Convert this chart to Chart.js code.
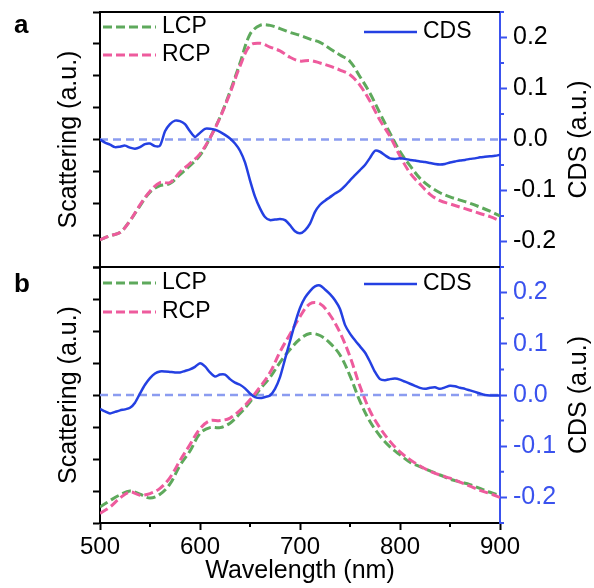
<!DOCTYPE html>
<html>
<head>
<meta charset="utf-8">
<script src="https://cdn.jsdelivr.net/npm/chart.js@4.4.1/dist/chart.umd.min.js"></script>
<style>
  html, body { margin: 0; padding: 0; background: #fff; }
  #wrap { position: relative; width: 594px; height: 588px; }
  #wrap canvas { position: absolute; left: 0; top: 0; }
</style>
</head>
<body>
<div id="wrap">
  <canvas id="chartA" width="594" height="588"></canvas>
  <canvas id="chartB" width="594" height="588"></canvas>
</div>
<script>
// wavelength grids (nm)
var wavelength = [500,510,520,530,540,550,560,570,580,590,600,610,620,630,640,650,660,670,680,690,
  700,710,720,730,740,750,760,770,780,790,800,810,820,830,840,850,860,870,880,890,900];
var cdsWavelength = [500,505,510,515,520,525,530,535,540,545,550,555,560,565,570,575,580,585,590,595,
  600,605,610,615,620,625,630,635,640,645,650,655,660,665,670,675,680,685,690,695,
  700,705,710,715,720,725,730,735,740,745,750,755,760,765,770,775,780,785,790,795,
  800,805,810,815,820,825,830,835,840,845,850,855,860,865,870,875,880,885,890,895,900];

// panel a - scattering (a.u., arbitrary 0..8 scale)
var lcpA = [0.85,0.98,1.08,1.45,1.92,2.35,2.55,2.62,2.9,3.18,3.5,4.05,4.7,5.5,6.4,7.3,7.58,7.58,7.48,7.36,
  7.27,7.15,7.05,6.85,6.65,6.45,5.97,5.45,4.82,4.2,3.62,3.18,2.78,2.52,2.33,2.2,2.1,2.0,1.88,1.75,1.6];
var rcpA = [0.85,0.98,1.08,1.45,1.95,2.38,2.65,2.65,2.98,3.25,3.55,4.05,4.68,5.45,6.3,6.95,7.02,6.9,6.78,6.58,
  6.46,6.48,6.4,6.3,6.18,6.03,5.7,5.2,4.6,4.1,3.48,2.95,2.6,2.28,2.08,1.98,1.88,1.78,1.68,1.58,1.45];
// panel a - CDS
var cdsA = [0.0,-0.006,-0.01,-0.015,-0.014,-0.012,-0.016,-0.018,-0.015,-0.009,-0.008,-0.013,-0.012,0.016,0.03,0.037,0.036,0.03,0.016,0.005,
  0.013,0.021,0.021,0.019,0.015,0.009,0.002,-0.008,-0.022,-0.045,-0.08,-0.112,-0.135,-0.152,-0.158,-0.157,-0.156,-0.158,-0.168,-0.18,
  -0.184,-0.178,-0.165,-0.142,-0.128,-0.12,-0.113,-0.106,-0.1,-0.091,-0.08,-0.07,-0.06,-0.05,-0.036,-0.022,-0.024,-0.031,-0.037,-0.038,
  -0.037,-0.038,-0.04,-0.041,-0.043,-0.044,-0.046,-0.048,-0.049,-0.048,-0.045,-0.043,-0.041,-0.04,-0.038,-0.037,-0.035,-0.034,-0.033,-0.032,-0.03];

// panel b - scattering
var lcpB = [0.5,0.7,0.88,1.0,0.9,0.78,0.9,1.22,1.8,2.25,2.8,2.98,2.98,3.12,3.42,3.78,4.18,4.55,5.02,5.42,
  5.75,5.92,5.86,5.62,5.25,4.6,3.8,3.17,2.72,2.38,2.13,1.9,1.76,1.63,1.5,1.37,1.28,1.2,1.08,0.96,0.86];
var rcpB = [0.3,0.5,0.78,0.97,0.87,0.92,1.08,1.42,1.95,2.45,2.95,3.2,3.2,3.28,3.52,3.85,4.25,4.7,5.35,5.9,
  6.45,6.85,6.85,6.5,5.95,5.2,4.27,3.5,2.97,2.55,2.22,1.98,1.78,1.62,1.5,1.4,1.28,1.15,1.02,0.92,0.8];
// panel b - CDS
var cdsB = [-0.027,-0.032,-0.036,-0.033,-0.03,-0.028,-0.025,-0.015,0.003,0.02,0.033,0.042,0.046,0.046,0.045,0.044,0.044,0.047,0.05,0.055,
  0.062,0.056,0.044,0.036,0.04,0.04,0.031,0.024,0.02,0.013,0.003,-0.004,-0.006,-0.004,-0.001,0.012,0.035,0.07,0.105,0.14,
  0.17,0.19,0.203,0.212,0.214,0.206,0.197,0.185,0.168,0.137,0.12,0.107,0.095,0.083,0.065,0.045,0.031,0.029,0.031,0.032,
  0.03,0.026,0.022,0.018,0.014,0.012,0.014,0.015,0.012,0.015,0.018,0.017,0.014,0.012,0.009,0.006,0.003,0.0,-0.001,-0.001,-0.001];

// zero reference line for CDS
var zeroLineX = [500, 900];
var zeroLineY = [0, 0];

// ticks
var wavelengthTicks = [500, 600, 700, 800, 900];
var minorWavelengthTicks = [550, 650, 750, 850];
var cdsTicks = [-0.2, -0.1, 0, 0.1, 0.2];
var minorCdsTicks = [-0.25, -0.15, -0.05, 0.05, 0.15, 0.25];
var scatterTicks = [0, 1, 2, 3, 4, 5, 6, 7, 8];

var lcpGreen = '#5ea95c';
var rcpPink = '#ee5b9d';
var cdsBlue = '#2440e2';
var axisBlue = '#3a52ee';
var zeroBlue = '#8b9cf0';

Chart.defaults.font.family = '"Liberation Sans", Arial, sans-serif';
Chart.defaults.color = '#000';

function toXY(xs, ys) {
  return ys.map(function (y, i) { return { x: xs[i], y: y }; });
}

// frame, minor ticks, legend, right title, panel letter
var panelDecor = {
  id: 'panelDecor',
  afterDraw: function (chart, args, o) {
    var ctx = chart.ctx, a = chart.chartArea;
    var rS = chart.scales.cds, xS = chart.scales.x;
    ctx.save();
    ctx.lineWidth = 2;
    ctx.strokeStyle = '#000';
    ctx.beginPath();
    ctx.moveTo(a.left - 1, a.top); ctx.lineTo(a.right, a.top);
    if (o.bottomLine) { ctx.moveTo(a.left - 1, a.bottom); ctx.lineTo(a.right, a.bottom); }
    ctx.stroke();

    ctx.strokeStyle = axisBlue;
    ctx.beginPath();
    minorCdsTicks.forEach(function (v) {
      var y = rS.getPixelForValue(v);
      ctx.moveTo(a.right, y); ctx.lineTo(a.right + 4, y);
    });
    ctx.stroke();

    if (o.minorX) {
      ctx.strokeStyle = '#000';
      ctx.beginPath();
      minorWavelengthTicks.forEach(function (v) {
        var x = xS.getPixelForValue(v);
        ctx.moveTo(x, a.bottom); ctx.lineTo(x, a.bottom + 4);
      });
      ctx.stroke();
    }

    // legend
    ctx.font = '23px "Liberation Sans", Arial, sans-serif';
    ctx.textBaseline = 'middle';
    ctx.textAlign = 'left';
    ctx.fillStyle = '#000';
    var items = [
      { c: lcpGreen, dash: [9, 4], x0: a.left + 3, x1: a.left + 56, y: a.top + o.legY[0], t: 'LCP' },
      { c: rcpPink, dash: [9, 4], x0: a.left + 3, x1: a.left + 56, y: a.top + o.legY[1], t: 'RCP' },
      { c: cdsBlue, dash: [], x0: a.right - 136, x1: a.right - 83, y: a.top + o.legY[2], t: 'CDS' }
    ];
    items.forEach(function (it) {
      ctx.setLineDash(it.dash);
      ctx.strokeStyle = it.c;
      ctx.lineWidth = it.dash.length ? 3 : 2.5;
      ctx.beginPath(); ctx.moveTo(it.x0, it.y); ctx.lineTo(it.x1, it.y); ctx.stroke();
      ctx.fillText(it.t, it.x1 + 6, it.y);
    });
    ctx.setLineDash([]);

    // right axis title
    ctx.save();
    ctx.font = '25px "Liberation Sans", Arial, sans-serif';
    ctx.textAlign = 'center';
    ctx.translate(579, (a.top + a.bottom) / 2);
    ctx.rotate(-Math.PI / 2);
    ctx.fillText('CDS (a.u.)', 0, 0);
    ctx.restore();

    // panel letter
    ctx.font = 'bold 26px "Liberation Sans", Arial, sans-serif';
    ctx.textBaseline = 'alphabetic';
    ctx.fillText(o.letter, 14, o.letterY);
    ctx.restore();
  }
};

function makePanel(id, lcp, rcp, cds, p) {
  var datasets = [
    { label: 'CDS', data: toXY(cdsWavelength, cds), yAxisID: 'cds', borderColor: cdsBlue, borderWidth: 2.5, tension: 0.25, order: 0 },
    { label: 'RCP', data: toXY(wavelength, rcp), yAxisID: 'scat', borderColor: rcpPink, borderDash: [9, 4], borderWidth: 3, tension: 0.35, order: 1 },
    { label: 'LCP', data: toXY(wavelength, lcp), yAxisID: 'scat', borderColor: lcpGreen, borderDash: [9, 4], borderWidth: 3, tension: 0.35, order: 2 },
    { label: 'zero', data: toXY(zeroLineX, zeroLineY), yAxisID: 'cds', borderColor: zeroBlue, borderDash: [8, 5], borderWidth: 2.5, order: 3 }
  ];
  return new Chart(document.getElementById(id), {
    type: 'line',
    data: { datasets: datasets },
    options: {
      responsive: false,
      animation: false,
      devicePixelRatio: 1,
      layout: { padding: { top: p.padTop, bottom: p.padBottom, left: 0, right: 0 } },
      elements: { point: { radius: 0 } },
      plugins: { legend: { display: false }, tooltip: { enabled: false }, panelDecor: p.decor },
      scales: {
        x: {
          type: 'linear', min: 500, max: 900,
          display: p.showX,
          afterBuildTicks: function (s) { s.ticks = wavelengthTicks.map(function (v) { return { value: v }; }); },
          afterFit: function (s) { s.height = p.showX ? 65 : 0; s.paddingLeft = 0; s.paddingRight = 0; },
          grid: { drawOnChartArea: false, tickLength: 7, tickWidth: 2, tickColor: '#000' },
          border: { color: '#000', width: 2 },
          ticks: { font: { size: 24 }, padding: 3, maxRotation: 0, color: '#000' },
          title: { display: true, text: 'Wavelength (nm)', font: { size: 25 }, padding: { top: 0, bottom: 2 }, color: '#000' }
        },
        scat: {
          position: 'left', min: 0, max: 8,
          afterBuildTicks: function (s) { s.ticks = scatterTicks.map(function (v) { return { value: v }; }); },
          afterFit: function (s) { s.width = 100; s.paddingTop = 0; s.paddingBottom = 0; },
          grid: { drawOnChartArea: false, tickLength: 7, tickWidth: 2, tickColor: '#000' },
          border: { color: '#000', width: 2 },
          ticks: { display: false },
          title: { display: true, text: 'Scattering (a.u.)', font: { size: 25 }, padding: { top: 54, bottom: 0 }, color: '#000' }
        },
        cds: {
          position: 'right', min: -0.25, max: 0.25,
          afterBuildTicks: function (s) { s.ticks = cdsTicks.map(function (v) { return { value: v }; }); },
          afterFit: function (s) { s.width = 94; s.paddingTop = 0; s.paddingBottom = 0; },
          grid: { drawOnChartArea: false, tickLength: 7, tickWidth: 2, tickColor: axisBlue },
          border: { color: axisBlue, width: 2 },
          ticks: { font: { size: 25 }, padding: 6, color: p.tickColor,
            callback: function (v) { return Number(v).toFixed(1); } }
        }
      }
    },
    plugins: [panelDecor]
  });
}

makePanel('chartA', lcpA, rcpA, cdsA, {
  padTop: 12, padBottom: 321, showX: false, tickColor: '#000',
  decor: { bottomLine: true, minorX: false, legY: [15, 43, 20], letter: 'a', letterY: 33 }
});
makePanel('chartB', lcpB, rcpB, cdsB, {
  padTop: 267, padBottom: 0, showX: true, tickColor: axisBlue,
  decor: { bottomLine: false, minorX: true, legY: [16, 45, 17], letter: 'b', letterY: 292 }
});
</script>
</body>
</html>
